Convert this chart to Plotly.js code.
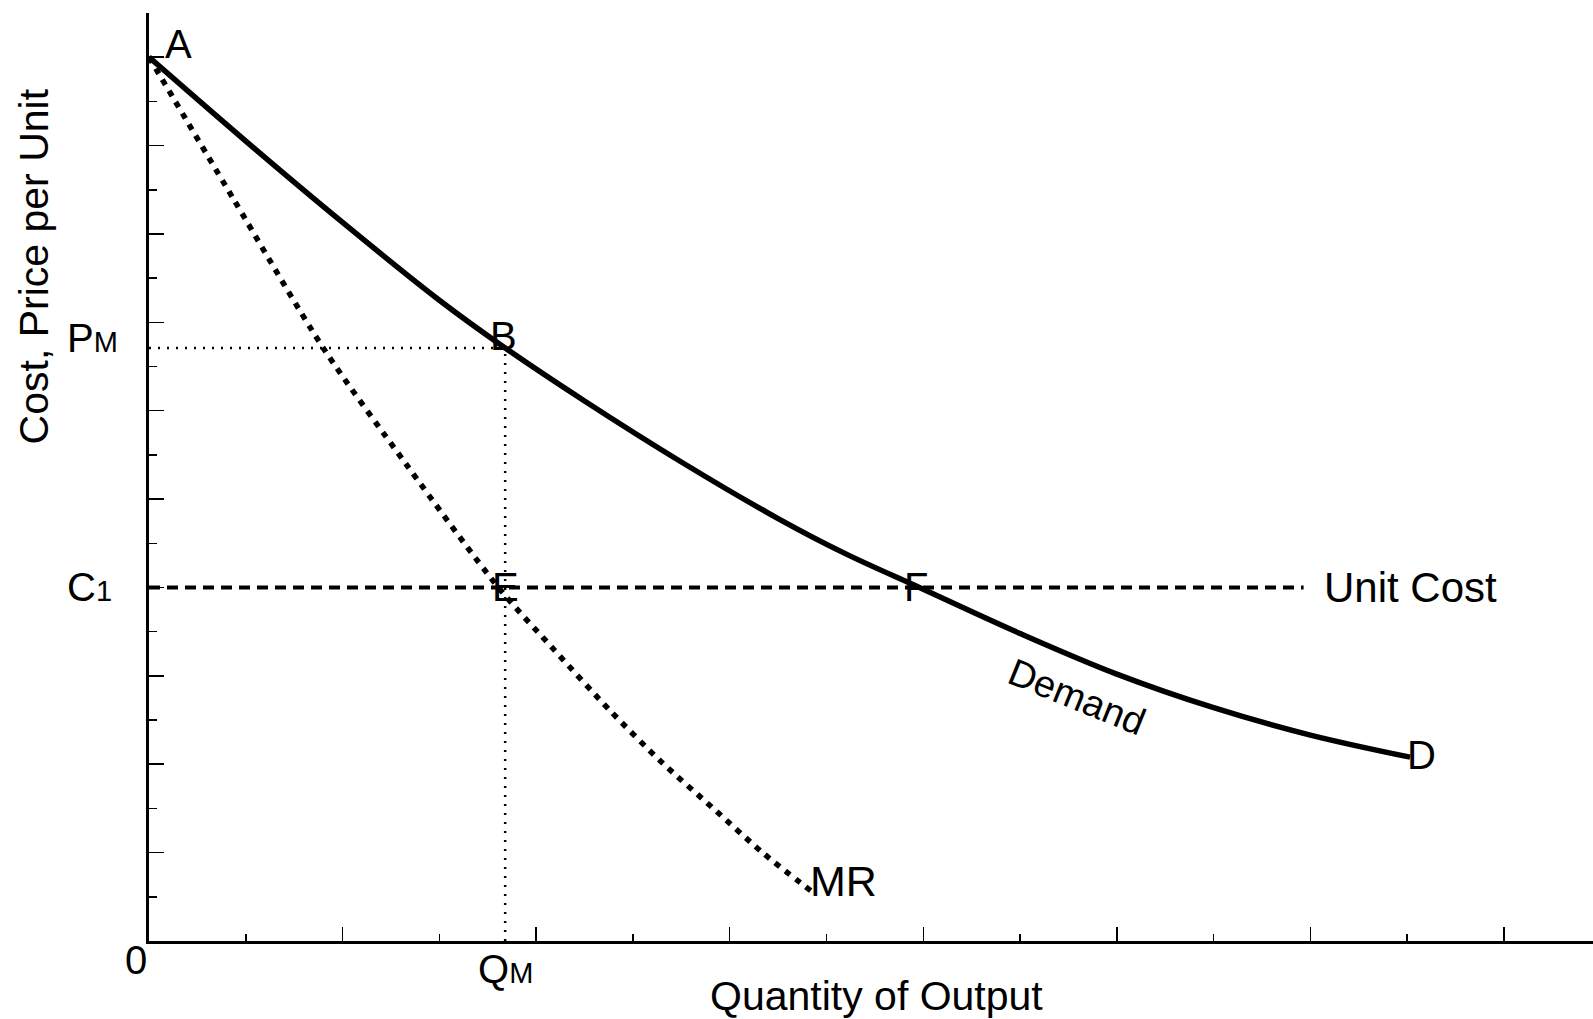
<!DOCTYPE html>
<html>
<head>
<meta charset="utf-8">
<script src="https://cdn.plot.ly/plotly-3.0.1.min.js"></script>
<style>
  html, body { margin: 0; padding: 0; background: #fff; }
  #chart { width: 1593px; height: 1019px; }
</style>
</head>
<body>
<div id="chart"></div>
<script>
// ---- data ----
var demandX = [0, 1, 2, 3, 3.68, 4.5, 5.5, 6.5, 7.2, 7.96, 9, 10, 11, 12, 13.03];
var demandY = [10, 9.05, 8.13, 7.25, 6.71, 6.11, 5.42, 4.78, 4.38, 4.0, 3.48, 3.02, 2.64, 2.33, 2.08];

var mrX = [0, 0.87, 1.80, 2.66, 3.61, 4.19, 4.77, 5.30, 5.82, 6.35, 6.86];
var mrY = [10, 8.40, 6.71, 5.39, 4.00, 3.29, 2.60, 2.02, 1.51, 0.99, 0.55];

var unitCostX = [0, 11.93];
var unitCostY = [4.0, 4.0];

var qM = 3.68;   // monopoly quantity
var pM = 6.71;   // monopoly price
var c1 = 4.0;    // unit cost

var pmLineX = [0, qM];
var pmLineY = [pM, pM];
var qmLineX = [qM, qM];
var qmLineY = [0, pM];

var FONT = '"Liberation Sans", Arial, Helvetica, sans-serif';
var FS = 40;

var traces = [
  { x: demandX, y: demandY, type: 'scatter', mode: 'lines',
    line: { color: '#000', width: 5.5, shape: 'spline', smoothing: 1 }, hoverinfo: 'skip' },
  { x: mrX, y: mrY, type: 'scatter', mode: 'lines',
    line: { color: '#000', width: 5.5, dash: '6px,7px', shape: 'spline', smoothing: 0.8 }, hoverinfo: 'skip' },
  { x: unitCostX, y: unitCostY, type: 'scatter', mode: 'lines',
    line: { color: '#000', width: 4, dash: '11px,7px' }, hoverinfo: 'skip' },
  { x: pmLineX, y: pmLineY, type: 'scatter', mode: 'lines',
    line: { color: '#000', width: 2.5, dash: '2px,7px' }, hoverinfo: 'skip' },
  { x: qmLineX, y: qmLineY, type: 'scatter', mode: 'lines',
    line: { color: '#000', width: 2.5, dash: '2px,7px' }, hoverinfo: 'skip' }
];

function ann(text, x, y, opts) {
  var a = { text: text, x: x, y: y, xref: 'x', yref: 'y', showarrow: false,
            font: { family: FONT, size: FS, color: '#000' }, xanchor: 'center', yanchor: 'middle' };
  if (opts) for (var k in opts) a[k] = opts[k];
  return a;
}
function pann(text, x, y, opts) {
  var a = ann(text, x, y, opts);
  a.xref = 'paper'; a.yref = 'paper';
  return a;
}
var SUB = '<span style="font-size:29px">';

var annotations = [
  ann('A', 0.30, 10.15),
  ann('B', 3.66, 6.85),
  ann('E', 3.68, 4.0),
  ann('F', 7.93, 4.0),
  ann('D', 13.15, 2.11),
  ann('MR', 7.18, 0.675, { font: { family: FONT, size: 43, color: '#000' } }),
  ann('Unit Cost', 13.03, 4.0, { font: { family: FONT, size: 42, color: '#000' } }),
  ann('Demand', 9.59, 2.76, { textangle: 22, font: { family: FONT, size: 38, color: '#000' } }),
  pann('P' + SUB + 'M</span>', -0.0388, 0.650),
  pann('C' + SUB + '1</span>', -0.0409, 0.381),
  pann('0', -0.009, -0.0209),
  pann('Q' + SUB + 'M</span>', 0.2472, -0.0306),
  pann('Quantity of Output', 0.5035, -0.0597, { font: { family: FONT, size: 41, color: '#000' } }),
  pann('Cost, Price per Unit', -0.0796, 0.727, { textangle: -90, font: { family: FONT, size: 41, color: '#000' } })
];

var layout = {
  width: 1593, height: 1019,
  margin: { l: 149, r: 0, t: 13, b: 78, pad: 0 },
  paper_bgcolor: '#fff', plot_bgcolor: '#fff',
  showlegend: false,
  xaxis: {
    range: [0, 14.92], showgrid: false, zeroline: false,
    showline: true, linecolor: '#000', linewidth: 3,
    showticklabels: false,
    ticks: 'inside', tick0: 0, dtick: 2, ticklen: 14, tickwidth: 1.5, tickcolor: '#000',
    minor: { ticks: 'inside', dtick: 1, ticklen: 7, tickwidth: 1.5, tickcolor: '#000', showgrid: false },
    fixedrange: true
  },
  yaxis: {
    range: [0, 10.5], showgrid: false, zeroline: false,
    showline: true, linecolor: '#000', linewidth: 3,
    showticklabels: false,
    ticks: 'inside', tick0: 0, dtick: 1, ticklen: 15, tickwidth: 1.5, tickcolor: '#000',
    minor: { ticks: 'inside', dtick: 0.5, ticklen: 8, tickwidth: 1.5, tickcolor: '#000', showgrid: false },
    fixedrange: true
  },
  annotations: annotations
};

Plotly.newPlot('chart', traces, layout, { displayModeBar: false, staticPlot: true });
</script>
</body>
</html>
